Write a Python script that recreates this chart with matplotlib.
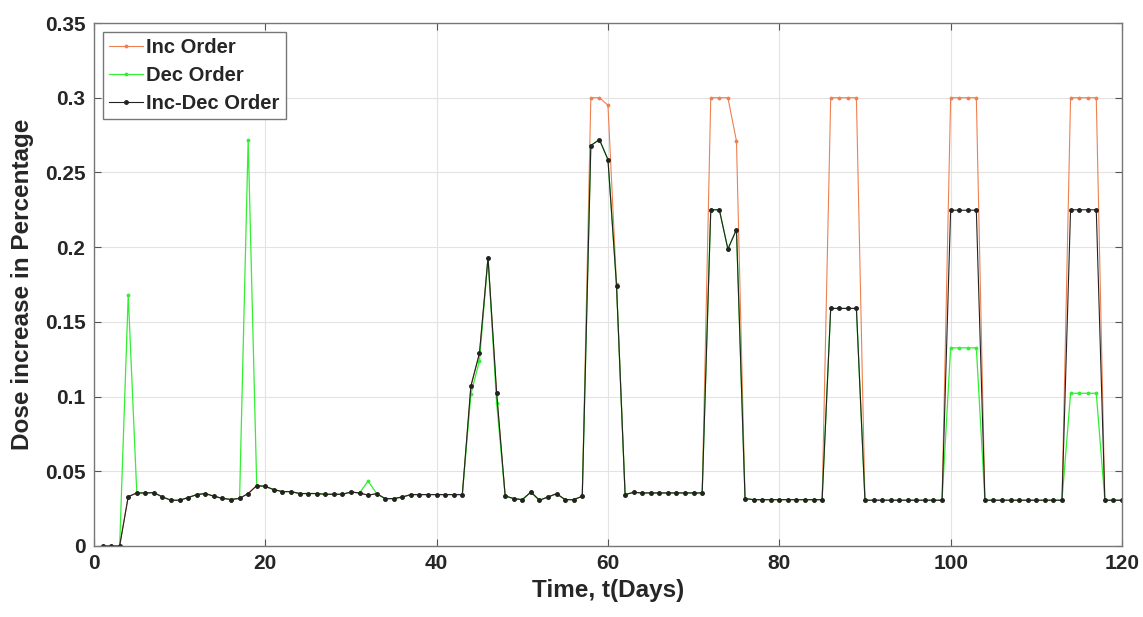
import numpy as np
import matplotlib
matplotlib.use("Agg")
import matplotlib.pyplot as plt
from matplotlib.ticker import FormatStrFormatter

plt.rcParams['font.family'] = ['Liberation Sans', 'DejaVu Sans']
plt.rcParams['font.weight'] = 'bold'

# days 1..120
days = np.arange(1, 121)

# Inc-Dec order (black)
inc_dec = [
    0, 0, 0, 0.033, 0.0355, 0.0355, 0.0357, 0.0328, 0.0306, 0.0306,
    0.0324, 0.0344, 0.0351, 0.0333, 0.0319, 0.0311, 0.0319, 0.0351, 0.0404, 0.0399,
    0.0377, 0.0364, 0.0364, 0.0351, 0.0351, 0.0351, 0.0346, 0.0346, 0.0346, 0.0361,
    0.0355, 0.034, 0.035, 0.0317, 0.0317, 0.0328, 0.0344, 0.0344, 0.0344, 0.0344,
    0.0344, 0.0344, 0.0344, 0.107, 0.129, 0.193, 0.1027, 0.0335, 0.0317, 0.031,
    0.0361, 0.0306, 0.0328, 0.035, 0.031, 0.031, 0.0333, 0.268, 0.272, 0.2586,
    0.1743, 0.0344, 0.0359, 0.0355, 0.0355, 0.0355, 0.0355, 0.0355, 0.0355, 0.0355,
    0.0355, 0.225, 0.225, 0.1987, 0.2118, 0.0317, 0.031, 0.031, 0.031, 0.031,
    0.031, 0.031, 0.031, 0.031, 0.031, 0.159, 0.159, 0.159, 0.159, 0.0306,
    0.0306, 0.0306, 0.0306, 0.0306, 0.0306, 0.0306, 0.0306, 0.0306, 0.0306, 0.2247,
    0.2247, 0.2247, 0.2247, 0.0306, 0.0306, 0.0306, 0.0306, 0.0306, 0.0306, 0.0306,
    0.0306, 0.0306, 0.0306, 0.225, 0.225, 0.225, 0.225, 0.0306, 0.0306, 0.0306,
]

# Inc order (orange)
inc = [
    0, 0, 0, 0.033, 0.0355, 0.0355, 0.0357, 0.0328, 0.0306, 0.0306,
    0.0324, 0.0344, 0.0351, 0.0333, 0.0319, 0.0311, 0.0319, 0.0351, 0.0404, 0.0399,
    0.0377, 0.0364, 0.0364, 0.0351, 0.0351, 0.0351, 0.0346, 0.0346, 0.0346, 0.0361,
    0.0355, 0.034, 0.035, 0.0317, 0.0317, 0.0328, 0.0344, 0.0344, 0.0344, 0.0344,
    0.0344, 0.0344, 0.0344, 0.107, 0.129, 0.193, 0.1027, 0.0335, 0.0317, 0.031,
    0.0361, 0.0306, 0.0328, 0.035, 0.031, 0.031, 0.0333, 0.3, 0.3, 0.295,
    0.175, 0.0344, 0.0359, 0.0355, 0.0355, 0.0355, 0.0355, 0.0355, 0.0355, 0.0355,
    0.0355, 0.3, 0.3, 0.3, 0.271, 0.0317, 0.031, 0.031, 0.031, 0.031,
    0.031, 0.031, 0.031, 0.031, 0.031, 0.3, 0.3, 0.3, 0.3, 0.0306,
    0.0306, 0.0306, 0.0306, 0.0306, 0.0306, 0.0306, 0.0306, 0.0306, 0.0306, 0.3,
    0.3, 0.3, 0.3, 0.0306, 0.0306, 0.0306, 0.0306, 0.0306, 0.0306, 0.0306,
    0.0306, 0.0306, 0.0306, 0.3, 0.3, 0.3, 0.3, 0.0306, 0.0306, 0.0306,
]

# Dec order (green)
dec = [
    0, 0, 0, 0.168, 0.0355, 0.0355, 0.0357, 0.0328, 0.0306, 0.0306,
    0.0324, 0.0344, 0.0351, 0.0333, 0.0319, 0.0311, 0.0319, 0.272, 0.0404, 0.0399,
    0.0377, 0.0364, 0.0364, 0.0351, 0.0351, 0.0351, 0.0346, 0.0346, 0.0346, 0.0361,
    0.0355, 0.0435, 0.035, 0.0317, 0.0317, 0.0328, 0.0344, 0.0344, 0.0344, 0.0344,
    0.0344, 0.0344, 0.0344, 0.1016, 0.124, 0.193, 0.096, 0.0335, 0.0317, 0.031,
    0.0361, 0.0306, 0.0328, 0.035, 0.031, 0.031, 0.0333, 0.268, 0.272, 0.2586,
    0.1743, 0.0344, 0.0359, 0.0355, 0.0355, 0.0355, 0.0355, 0.0355, 0.0355, 0.0355,
    0.0355, 0.225, 0.225, 0.1987, 0.2118, 0.0317, 0.031, 0.031, 0.031, 0.031,
    0.031, 0.031, 0.031, 0.031, 0.031, 0.159, 0.159, 0.159, 0.159, 0.0306,
    0.0306, 0.0306, 0.0306, 0.0306, 0.0306, 0.0306, 0.0306, 0.0306, 0.0306, 0.1326,
    0.1326, 0.1326, 0.1326, 0.0306, 0.0306, 0.0306, 0.0306, 0.0306, 0.0306, 0.0306,
    0.0306, 0.0306, 0.0306, 0.1022, 0.1022, 0.1022, 0.1022, 0.0306, 0.0306, 0.0306,
]

txt = '#262626'

fig = plt.figure(figsize=(11.43, 6.17), dpi=100)
ax = fig.add_axes([0.0822, 0.1151, 0.8994, 0.8476])

ax.plot(days, inc, color='#EE8050', lw=0.8, marker='.', ms=3.5, label='Inc Order')
ax.plot(days, dec, color='#33EE33', lw=0.9, marker='.', ms=3.5, label='Dec Order')
ax.plot(days, inc_dec, color='#222222', lw=0.8, marker='.', ms=5, label='Inc-Dec Order')

ax.set_xlim(0, 120)
ax.set_ylim(0, 0.35)
ax.set_xticks(np.arange(0, 121, 20))
ax.set_yticks(np.arange(0, 0.351, 0.05))
ax.yaxis.set_major_formatter(FormatStrFormatter('%g'))

ax.grid(True, color='#e3e3e3', lw=0.8)
ax.set_axisbelow(True)
ax.tick_params(direction='in', length=5, top=True, right=True,
               labelsize=15, colors='#555555', labelcolor=txt, pad=6)
for s in ax.spines.values():
    s.set_color('#777777')
    s.set_linewidth(1)

ax.set_xlabel('Time, t(Days)', fontsize=17.5, fontweight='bold', color=txt, labelpad=4)
ax.set_ylabel('Dose increase in Percentage', fontsize=17.5, fontweight='bold', color=txt, labelpad=8)

leg = ax.legend(loc='upper left', fontsize=14.5, frameon=True, fancybox=False,
                edgecolor='#777777', framealpha=1, numpoints=1,
                handlelength=1.7, handletextpad=0.15, labelspacing=0.45,
                borderpad=0.3, borderaxespad=0.45)
leg.get_frame().set_linewidth(1.0)
for t in leg.get_texts():
    t.set_color(txt)

fig.savefig('out.png', dpi=100)
